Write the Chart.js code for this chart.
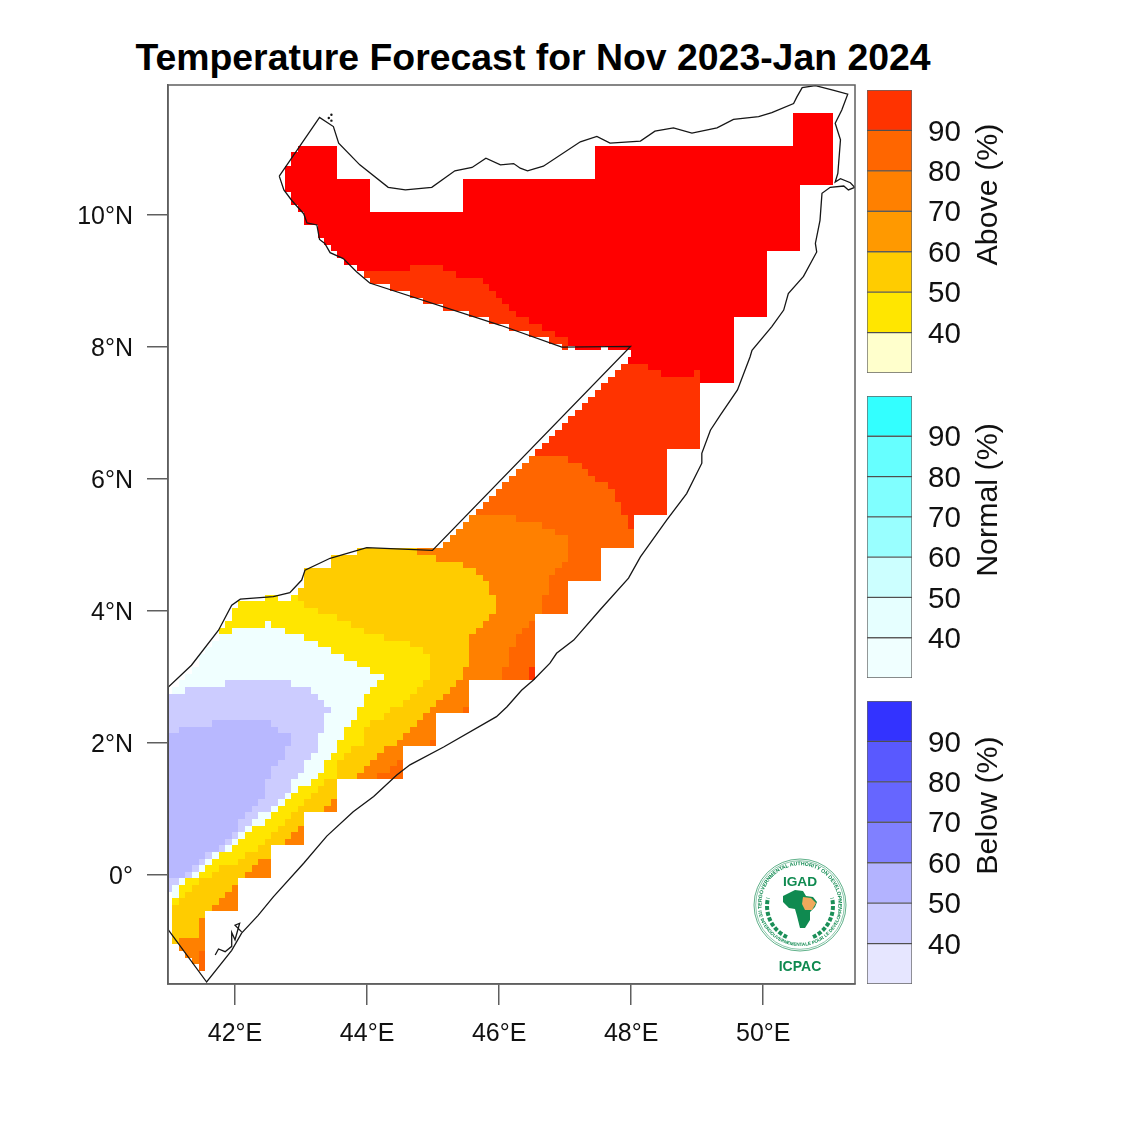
<!DOCTYPE html>
<html>
<head>
<meta charset="utf-8">
<title>Temperature Forecast</title>
<script src="https://cdn.jsdelivr.net/npm/chart.js@4"></script>
<style>
    html, body { margin: 0; padding: 0; background: #fff; }
    body { width: 1125px; height: 1125px; position: relative; overflow: hidden; font-family: "Liberation Sans", sans-serif; }
    canvas { position: absolute; }
    #title { position: absolute; left: 0; top: 36px; width: 1066px; text-align: center; font-size: 37.4px; font-weight: bold; color: #000; white-space: nowrap; }
    #logo { position: absolute; left: 745px; top: 850px; }
</style>
</head>
<body>
<div id="title">Temperature Forecast for Nov 2023-Jan 2024</div>
<canvas id="map" width="1125" height="1125" style="left:0;top:0"></canvas>
<canvas id="barAbove" width="160" height="287" style="left:865px;top:88px"></canvas>
<canvas id="barNormal" width="160" height="286" style="left:865px;top:394px"></canvas>
<canvas id="barBelow" width="160" height="287" style="left:865px;top:699px"></canvas>
<svg id="logo" width="110" height="130" viewBox="0 0 110 130">
    <defs>
        <path id="ringTop" d="M 17 60 A 38.5 38.5 0 1 1 93 60"/>
        <path id="ringBottom" d="M 13 60 A 42.5 42.5 0 0 0 97 60"/>
    </defs>
    <g fill="none" stroke="#1b8f58">
        <circle cx="55" cy="55" r="46" stroke-width="0.7"/>
        <circle cx="55" cy="55" r="44.3" stroke-width="0.5"/>
        <path d="M 42 87 A 34 34 0 0 1 23 48" stroke-width="4" stroke-dasharray="4 1.8"/>
        <path d="M 68 87 A 34 34 0 0 0 87 48" stroke-width="4" stroke-dasharray="4 1.8"/>
    </g>
    <g font-family="Liberation Sans" font-weight="bold" fill="#0f8a50" text-anchor="middle">
        <text font-size="5.2"><textPath href="#ringTop" startOffset="50%">INTERGOVERNMENTAL AUTHORITY ON DEVELOPMENT</textPath></text>
        <text font-size="4.6"><textPath href="#ringBottom" startOffset="50%">AUTORITE INTERGOUVERNEMENTALE POUR LE DEVELOPPEMENT</textPath></text>
        <text x="55" y="36" font-size="13.7">IGAD</text>
        <text x="55" y="121" font-size="14">ICPAC</text>
    </g>
    <path fill="#0f8a50" d="M42 44 L50 40 L58 41 L61 46 L68 47 L72 52 L70 57 L65 62 L65 70 L60 78 L55 78 L52 66 L50 59 L44 58 L38 52 L38 46 Z"/>
    <path fill="#efa95c" d="M58 47 L66 48 L71 53 L67 60 L60 60 L57 54 Z"/>
</svg>

<script>
const lonTicks = [42, 44, 46, 48, 50];
const latTicks = [0, 2, 4, 6, 8, 10];
const lonRange = [40.985, 51.39];
const latRange = [-1.65, 11.97];

// outer edge of the forecast grid, clockwise from the NW corner (lon, lat)
const gridEdge = [
    [42.95, 11.05], [43.55, 11.05], [43.55, 10.55], [44.05, 10.55], [44.05, 10.05], [45.45, 10.05], [45.45, 10.55],
    [47.45, 10.55], [47.45, 11.05], [50.45, 11.05], [50.45, 11.55], [51.05, 11.55], [51.05, 10.45], [50.55, 10.45],
    [50.55, 9.45], [50.05, 9.45], [50.05, 8.45], [49.55, 8.45], [49.55, 7.45], [49.05, 7.45], [49.05, 6.45],
    [48.55, 6.45], [48.55, 5.45], [48.05, 5.45], [48.05, 4.95], [47.55, 4.95], [47.55, 4.45], [47.05, 4.45],
    [47.05, 3.95], [46.55, 3.95], [46.55, 2.95], [45.55, 2.95], [45.55, 2.45], [45.05, 2.45], [45.05, 1.95],
    [44.55, 1.95], [44.55, 1.45], [43.55, 1.45], [43.55, 0.95], [43.05, 0.95], [43.05, 0.45], [42.55, 0.45],
    [42.55, -0.05], [42.05, -0.05], [42.05, -0.55], [41.55, -0.55], [41.55, -1.45], [41.45, -1.45], [41.45, -1.35],
    [41.35, -1.25], [41.25, -1.15], [41.15, -1.05], [41.05, -0.95], [41.05, -0.55], [41.05, -0.25], [40.95, -0.25],
    [40.95, 2.75], [41.05, 2.85], [41.15, 2.95], [41.25, 3.05], [41.35, 3.15], [41.45, 3.35], [41.55, 3.45],
    [41.65, 3.55], [41.75, 3.75], [41.85, 3.85], [41.95, 4.05], [42.05, 4.15], [42.45, 4.25], [42.65, 4.15],
    [42.85, 4.25], [42.95, 4.35], [43.05, 4.65], [43.45, 4.85], [43.85, 4.95], [45.05, 4.95],
    [45.15, 5.05], [45.25, 5.15], [45.35, 5.25], [45.45, 5.35], [45.55, 5.45], [45.65, 5.55], [45.75, 5.65],
    [45.85, 5.75], [45.95, 5.85], [46.05, 5.95], [46.15, 6.05], [46.25, 6.15], [46.35, 6.25], [46.45, 6.35],
    [46.55, 6.45], [46.65, 6.55], [46.75, 6.65], [46.85, 6.75], [46.95, 6.85], [47.05, 6.95], [47.15, 7.05],
    [47.25, 7.15], [47.35, 7.25], [47.45, 7.35], [47.55, 7.45], [47.65, 7.55], [47.75, 7.65], [47.85, 7.75],
    [47.95, 7.85], [48.0, 7.95], [47.65, 8.02], [47.55, 7.95], [47.15, 8.02], [47.05, 7.95], [46.95, 8.05],
    [46.75, 8.15], [46.45, 8.25], [46.15, 8.35], [45.85, 8.45], [45.55, 8.55], [45.15, 8.65], [44.85, 8.75],
    [44.65, 8.85], [44.35, 8.95], [44.05, 9.05], [43.95, 9.15], [43.85, 9.25], [43.65, 9.35], [43.55, 9.45],
    [43.45, 9.55], [43.35, 9.65], [43.25, 9.85], [43.05, 10.05], [42.95, 10.15], [42.85, 10.35], [42.75, 10.75],
    [42.85, 10.95]
];

// inner contour edges, each joined up with a stretch of gridEdge below
const wedge80Edge = [[43.95, 9.15], [44.65, 9.25], [45.15, 9.15], [45.35, 9.05], [45.75, 8.95], [45.85, 8.85], [45.95, 8.75], [46.05, 8.65], [46.15, 8.55], [46.25, 8.45], [46.45, 8.35], [46.65, 8.25], [46.85, 8.15], [47.05, 8.05]];
const above80Edge = [[47.95, 7.85], [47.95, 7.75], [48.25, 7.65], [48.45, 7.55], [48.95, 7.65]];
const above70Edge = [[46.45, 6.35], [47.05, 6.25], [47.25, 6.15], [47.35, 6.05], [47.45, 5.95], [47.65, 5.85], [47.75, 5.65], [47.85, 5.45], [47.95, 5.25]];
const above60Edge = [[45.55, 5.45], [46.25, 5.35], [46.65, 5.25], [46.85, 5.15], [47.05, 4.75], [46.95, 4.65], [46.85, 4.55], [46.75, 4.25], [46.65, 3.95], [46.55, 3.85], [46.45, 3.75], [46.35, 3.65], [46.25, 3.45], [46.15, 3.15], [46.05, 2.95]];
const above50Edge = [[44.75, 4.95], [44.75, 4.85], [45.05, 4.75], [45.45, 4.65], [45.65, 4.55], [45.75, 4.45], [45.85, 4.25], [45.95, 3.95], [45.85, 3.85], [45.75, 3.75], [45.65, 3.65], [45.55, 3.15], [45.45, 2.95], [45.35, 2.85], [45.25, 2.75], [45.15, 2.65], [45.05, 2.55], [44.95, 2.45], [44.85, 2.35], [44.75, 2.25], [44.65, 2.15], [44.55, 2.05], [44.45, 1.95], [44.25, 1.85], [44.15, 1.75], [44.05, 1.65], [43.95, 1.55], [43.85, 1.45], [43.55, 1.15], [43.45, 1.05], [43.35, 0.95], [43.05, 0.75], [42.95, 0.65], [42.85, 0.55], [42.75, 0.45], [42.55, 0.25], [42.35, 0.15], [42.25, 0.05], [42.15, -0.05], [42.05, -0.15], [41.95, -0.25], [41.85, -0.35], [41.75, -0.45], [41.65, -0.55], [41.55, -0.65], [41.45, -0.95], [41.25, -0.95], [41.15, -1.05]];
const above40Edge = [[42.95, 4.15], [43.05, 4.05], [43.25, 3.95], [43.55, 3.85], [43.75, 3.75], [43.95, 3.65], [44.25, 3.55], [44.65, 3.45], [44.85, 3.35], [44.95, 2.95], [44.85, 2.85], [44.75, 2.75], [44.65, 2.65], [44.55, 2.55], [44.35, 2.45], [44.25, 2.35], [44.05, 2.25], [43.95, 1.95], [43.75, 1.85], [43.65, 1.75], [43.55, 1.45], [43.35, 1.35], [43.25, 1.25], [43.15, 1.15], [43.05, 1.05], [42.95, 0.95], [42.85, 0.85], [42.75, 0.75], [42.65, 0.65], [42.55, 0.55], [42.45, 0.45], [42.35, 0.35], [42.15, 0.25], [42.05, 0.15], [41.75, 0.05], [41.65, -0.05], [41.45, -0.15], [41.35, -0.25], [41.25, -0.35], [41.15, -0.45]];
const normalEdge = [[41.75, 3.65], [41.95, 3.75], [42.45, 3.85], [42.55, 3.75], [42.75, 3.65], [43.05, 3.55], [43.25, 3.45], [43.45, 3.35], [43.65, 3.25], [43.85, 3.15], [44.05, 3.05], [44.25, 2.95], [44.15, 2.85], [44.05, 2.75], [43.95, 2.55], [43.85, 2.35], [43.75, 2.25], [43.65, 2.05], [43.55, 1.85], [43.45, 1.75], [43.35, 1.55], [43.25, 1.45], [43.15, 1.35], [42.95, 1.25], [42.85, 1.15], [42.75, 1.05], [42.65, 0.95], [42.55, 0.85], [42.45, 0.75], [42.25, 0.65], [42.15, 0.55], [42.05, 0.45], [41.95, 0.35], [41.75, 0.25], [41.65, 0.15], [41.55, 0.05], [41.45, -0.05], [41.25, -0.15], [41.15, -0.35], [41.05, -0.45]];
const below40Area = [[40.95, 2.75], [41.25, 2.85], [41.85, 2.95], [42.85, 2.85], [43.15, 2.75], [43.25, 2.65], [43.35, 2.55], [43.45, 2.45], [43.35, 2.15], [43.25, 1.85], [43.15, 1.75], [43.05, 1.55], [42.95, 1.45], [42.85, 1.25], [42.75, 1.15], [42.65, 1.05], [42.55, 0.95], [42.35, 0.85], [42.25, 0.75], [42.15, 0.65], [42.05, 0.55], [41.95, 0.45], [41.85, 0.35], [41.65, 0.25], [41.55, 0.15], [41.45, 0.05], [41.35, -0.05], [41.15, -0.15], [41.05, -0.25], [40.95, -0.25]];
const below50Area = [[40.95, 2.15], [41.15, 2.25], [41.65, 2.35], [42.55, 2.25], [42.65, 2.15], [42.85, 1.95], [42.75, 1.75], [42.65, 1.65], [42.55, 1.45], [42.45, 1.15], [42.35, 1.05], [42.25, 0.95], [42.15, 0.85], [42.05, 0.65], [41.95, 0.55], [41.85, 0.45], [41.75, 0.35], [41.55, 0.25], [41.45, 0.15], [41.35, 0.05], [41.25, -0.05], [40.95, -0.05]];

// small patches sitting on the coast side of the grid
const patches70 = [
    [[45.45, 2.55], [45.55, 2.55], [45.55, 2.45], [45.45, 2.45]],
    [[44.95, 2.05], [45.05, 2.05], [45.05, 1.95], [44.95, 1.95]],
    [[44.15, 1.45], [44.15, 1.55], [44.35, 1.55], [44.35, 1.65], [44.45, 1.65], [44.45, 1.75], [44.55, 1.75], [44.55, 1.45]],
    [[41.45, -1.15], [41.55, -1.15], [41.55, -1.45], [41.45, -1.45]]
];
const patch80 = [[46.45, 3.15], [46.55, 3.15], [46.55, 2.95], [46.45, 2.95]];

const outline = [
    [42.67, 10.59], [42.74, 10.38], [42.86, 10.22], [43.04, 10.02], [43.09, 9.88], [43.24, 9.85], [43.28, 9.63], [43.36, 9.57],
    [43.44, 9.43], [43.64, 9.34], [43.84, 9.14], [44.04, 8.97], [46.02, 8.33], [46.95, 8.0], [47.99, 8.01], [44.99, 4.92],
    [43.995, 4.96], [43.44, 4.80], [43.06, 4.62], [43.01, 4.47], [42.83, 4.28], [42.58, 4.22], [42.08, 4.18], [41.95, 4.09],
    [41.75, 3.71], [41.34, 3.18], [40.99, 2.85], [40.99, -0.83], [41.57, -1.62], [41.95, -1.14], [42.1, -0.88], [42.35, -0.61],
    [42.58, -0.33], [43.04, 0.18], [43.39, 0.59], [43.79, 0.96], [44.10, 1.19], [44.45, 1.515], [44.65, 1.67], [45.16, 1.94],
    [45.96, 2.40], [46.12, 2.55], [46.34, 2.80], [46.52, 2.955], [46.77, 3.21], [46.87, 3.36], [47.13, 3.56], [47.53, 4.02],
    [47.96, 4.50], [48.14, 4.82], [48.54, 5.38], [48.84, 5.78], [49.07, 6.24], [49.07, 6.39], [49.2, 6.74], [49.35, 6.97],
    [49.61, 7.35], [49.80, 7.85], [49.83, 7.95], [50.13, 8.31], [50.31, 8.56], [50.38, 8.81], [50.61, 9.07], [50.81, 9.44],
    [50.79, 9.57], [50.86, 9.92], [50.89, 10.33], [51.015, 10.42], [51.22, 10.44], [51.29, 10.38], [51.385, 10.42], [51.32, 10.49],
    [51.17, 10.55], [51.09, 10.5], [51.13, 10.63], [51.17, 11.14], [51.09, 11.39], [51.19, 11.59], [51.28, 11.83], [51.07, 11.89],
    [50.79, 11.96], [50.59, 11.93], [50.51, 11.79], [50.46, 11.69], [50.13, 11.55], [49.93, 11.49], [49.55, 11.45], [49.30, 11.32],
    [48.92, 11.24], [48.64, 11.32], [48.36, 11.27], [48.14, 11.12], [47.68, 11.09], [47.48, 11.19], [47.23, 11.11], [46.67, 10.74],
    [46.43, 10.67], [46.32, 10.71], [46.22, 10.78], [46.02, 10.76], [45.80, 10.86], [45.59, 10.72], [45.33, 10.67], [44.98, 10.42],
    [44.58, 10.38], [44.32, 10.42], [43.89, 10.76], [43.57, 11.09], [43.49, 11.34], [43.28, 11.48], [42.67, 10.59]
];
const southIslets = [[41.70, -1.21], [41.75, -1.12], [41.85, -1.16], [41.95, -1.08], [41.95, -0.87], [42.0, -0.98], [42.07, -0.73], [42.0, -0.76], [42.1, -0.86]];
const northIslets = [[43.42, 11.47], [43.46, 11.43], [43.46, 11.52]];

const bands = [[30, 40], [40, 50], [50, 60], [60, 70], [70, 80], [80, 90], [90, 100]];
const bandTicks = [40, 50, 60, 70, 80, 90];
const aboveColors = ['#FFFFCC', '#FFE600', '#FFCC00', '#FF9900', '#FF8000', '#FF6600', '#FF3300'];
const normalColors = ['#F0FFFF', '#E6FFFF', '#CCFFFF', '#99FFFF', '#80FFFF', '#66FFFF', '#33FFFF'];
const belowColors = ['#E6E6FF', '#CCCCFF', '#B3B3FF', '#8080FF', '#6666FF', '#5959FF', '#3333FF'];

const FONT = '"Liberation Sans", sans-serif';
const AXIS_GREY = '#5f5f5f';
const TEXT_COLOR = '#111';

function edgeBetween(from, to) {
    const same = (a, b) => a[0] === b[0] && a[1] === b[1];
    const start = gridEdge.findIndex(p => same(p, from));
    const end = gridEdge.findIndex(p => same(p, to));
    if (start <= end) return gridEdge.slice(start, end + 1);
    return gridEdge.slice(start).concat(gridEdge.slice(0, end + 1));
}

function toPoints(list) {
    return list.map(p => ({ x: p[0], y: p[1] }));
}

// stepped line goes across first, then up or down, which gives the grid cell look
function area(list, color) {
    return {
        data: toPoints(list.concat([list[0]])),
        showLine: true,
        stepped: true,
        fill: 'shape',
        backgroundColor: color,
        borderWidth: 0,
        pointRadius: 0
    };
}

function mapDatasets() {
    const layers = [
        area(gridEdge, '#FF0000'),
        area(wedge80Edge.concat(edgeBetween([47.05, 7.95], [44.05, 9.05])), '#FF3300'),
        area(above80Edge.concat(edgeBetween([49.05, 7.45], [47.85, 7.75])), '#FF3300'),
        area(above70Edge.concat(edgeBetween([48.05, 4.95], [46.35, 6.25])), '#FF6600'),
        area(above60Edge.concat(edgeBetween([45.55, 2.95], [45.45, 5.35])), '#FF8000'),
        area(above50Edge.concat(edgeBetween([41.05, -0.95], [43.85, 4.95])), '#FFCC00'),
        area(above40Edge.concat(edgeBetween([41.05, -0.55], [42.95, 4.35])), '#FFE600'),
        area(normalEdge.concat(edgeBetween([41.05, -0.25], [41.65, 3.55])), '#F0FFFF'),
        area(below40Area, '#CCCCFF'),
        area(below50Area, '#B8B8FF')
    ];
    patches70.forEach(p => layers.push(area(p, '#FF6600')));
    layers.push(area(patch80, '#FF3300'));

    const line = (list) => ({
        data: toPoints(list),
        showLine: true,
        borderColor: '#161616',
        borderWidth: 1.3,
        pointRadius: 0,
        fill: false
    });
    const dots = {
        data: toPoints(northIslets),
        showLine: false,
        pointRadius: 1.2,
        pointBackgroundColor: '#161616',
        pointBorderWidth: 0
    };
    // first dataset is drawn on top, so the layers go in reversed
    return [line(outline), line(southIslets), dots].concat(layers.reverse());
}

// whole pixel corners keep the lower layers from showing through at the cell edges
const snapCells = {
    id: 'snapCells',
    afterDatasetsUpdate(chart) {
        chart.data.datasets.forEach((ds, i) => {
            if (!ds.stepped) return;
            chart.getDatasetMeta(i).data.forEach(pt => {
                pt.x = Math.round(pt.x);
                pt.y = Math.round(pt.y);
            });
        });
    }
};

const frame = {
    id: 'frame',
    afterDraw(chart) {
        const a = chart.chartArea;
        const ctx = chart.ctx;
        ctx.save();
        ctx.strokeStyle = AXIS_GREY;
        ctx.lineWidth = 1.5;
        ctx.strokeRect(a.left, a.top, a.right - a.left, a.bottom - a.top);
        ctx.restore();
    }
};

// y labels sit a little under their tick in the original
const lowerLabels = {
    id: 'lowerLabels',
    beforeDraw(chart) {
        chart.scales.y.getLabelItems().forEach(item => {
            item.textOffset = 2;
        });
    }
};

function drawMap() {
    new Chart(document.getElementById('map'), {
        type: 'scatter',
        data: { datasets: mapDatasets() },
        plugins: [snapCells, frame, lowerLabels],
        options: {
            responsive: false,
            animation: false,
            devicePixelRatio: 1,
            layout: { padding: { top: 85, right: 270, left: 0, bottom: 0 } },
            plugins: { legend: { display: false }, tooltip: { enabled: false } },
            scales: {
                x: {
                    type: 'linear',
                    min: lonRange[0],
                    max: lonRange[1],
                    afterFit: s => { s.height = 141; },
                    afterBuildTicks: s => { s.ticks = lonTicks.map(v => ({ value: v })); },
                    border: { color: AXIS_GREY, width: 1.5 },
                    grid: { drawOnChartArea: false, tickLength: 21, color: AXIS_GREY, lineWidth: 1.5 },
                    ticks: { callback: v => v + '°E', color: TEXT_COLOR, padding: 14, maxRotation: 0, autoSkip: false, font: { family: FONT, size: 25 } }
                },
                y: {
                    type: 'linear',
                    min: latRange[0],
                    max: latRange[1],
                    afterFit: s => { s.width = 168; },
                    afterBuildTicks: s => { s.ticks = latTicks.map(v => ({ value: v })); },
                    border: { color: AXIS_GREY, width: 1.5 },
                    grid: { drawOnChartArea: false, tickLength: 21, color: AXIS_GREY, lineWidth: 1.5 },
                    ticks: { callback: v => v === 0 ? '0°' : v + '°N', color: TEXT_COLOR, padding: 14, autoSkip: false, font: { family: FONT, size: 25 } }
                }
            }
        }
    });
}

function drawColorbar(id, colors, name) {
    const sideTitle = {
        id: 'sideTitle',
        afterDraw(chart) {
            const ctx = chart.ctx;
            const midY = (chart.chartArea.top + chart.chartArea.bottom) / 2 - 37;
            ctx.save();
            ctx.translate(124, midY);
            ctx.rotate(-Math.PI / 2);
            ctx.font = '30.4px ' + FONT;
            ctx.fillStyle = TEXT_COLOR;
            ctx.textAlign = 'center';
            ctx.textBaseline = 'middle';
            ctx.fillText(name, 0, 0);
            ctx.restore();
        }
    };
    new Chart(document.getElementById(id), {
        type: 'bar',
        data: {
            labels: [name],
            datasets: bands.map((b, i) => ({
                data: [b],
                backgroundColor: colors[i],
                borderColor: 'rgba(50, 50, 50, 0.75)',
                borderWidth: 1,
                borderSkipped: false,
                categoryPercentage: 1,
                barPercentage: 1,
                grouped: false
            }))
        },
        plugins: [sideTitle, lowerLabels],
        options: {
            responsive: false,
            animation: false,
            devicePixelRatio: 1,
            layout: { padding: { top: 2, bottom: 2, left: 2, right: 0 } },
            plugins: { legend: { display: false }, tooltip: { enabled: false } },
            scales: {
                x: { display: false },
                y: {
                    position: 'right',
                    min: 30,
                    max: 100,
                    afterFit: s => {
                        s.width = 113;
                        s.paddingTop = 0;
                        s.paddingBottom = 0;
                    },
                    afterBuildTicks: s => { s.ticks = bandTicks.map(v => ({ value: v })); },
                    border: { display: false },
                    grid: { display: false, drawTicks: false },
                    ticks: { color: TEXT_COLOR, padding: 16, font: { family: FONT, size: 29.5 } }
                }
            }
        }
    });
}

drawMap();
drawColorbar('barAbove', aboveColors, 'Above (%)');
drawColorbar('barNormal', normalColors, 'Normal (%)');
drawColorbar('barBelow', belowColors, 'Below (%)');
</script>
</body>
</html>
